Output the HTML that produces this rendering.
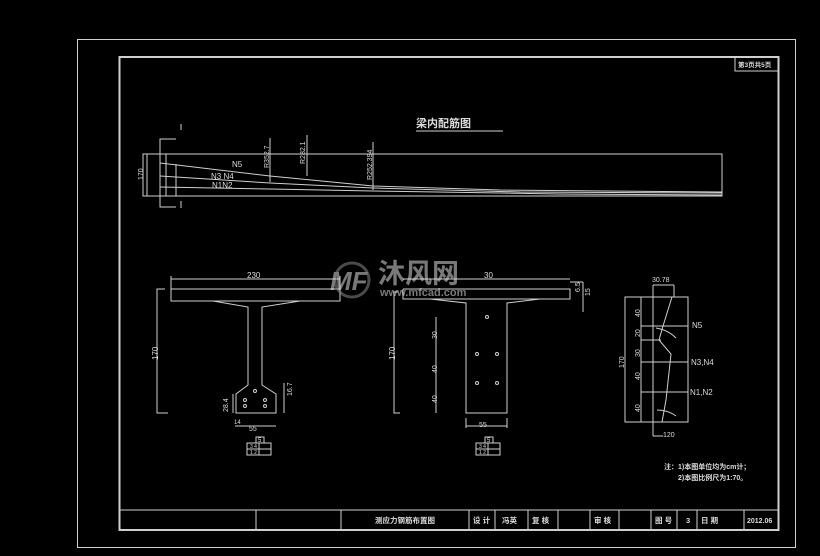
<!DOCTYPE html>
<html><head><meta charset="utf-8"><style>
html,body{margin:0;padding:0;background:#000;width:820px;height:556px;overflow:hidden}
svg{display:block}
text{font-family:"Liberation Sans","Noto Sans CJK SC",sans-serif;fill:#ddd}
.b{font-weight:bold}
</style></head><body>
<svg width="820" height="556" viewBox="0 0 820 556" xmlns="http://www.w3.org/2000/svg">
<rect width="820" height="556" fill="#000"/>
<g fill="none" stroke="#cfcfcf" stroke-width="1">
<rect x="77.5" y="39.5" width="718" height="508"/>
<rect x="119.5" y="57" width="659" height="473" stroke-width="2"/>
<line x1="119" y1="510" x2="779" y2="510"/>
<line x1="256" y1="510" x2="256" y2="530"/><line x1="341" y1="510" x2="341" y2="530"/>
<line x1="469" y1="510" x2="469" y2="530"/><line x1="495" y1="510" x2="495" y2="530"/>
<line x1="528" y1="510" x2="528" y2="530"/><line x1="558" y1="510" x2="558" y2="530"/>
<line x1="590" y1="510" x2="590" y2="530"/><line x1="619" y1="510" x2="619" y2="530"/>
<line x1="651" y1="510" x2="651" y2="530"/><line x1="677" y1="510" x2="677" y2="530"/>
<line x1="697" y1="510" x2="697" y2="530"/><line x1="744" y1="510" x2="744" y2="530"/>
<polyline points="735,57 735,71 779,71"/>

<rect x="143" y="154" width="579" height="42"/>
<polyline points="176,139 160,139 160,207 176,207"/>
<line x1="181" y1="124" x2="181" y2="130"/><line x1="181" y1="201" x2="181" y2="208"/>
<line x1="166" y1="154" x2="166" y2="196"/><line x1="176" y1="164" x2="176" y2="196"/>
<line x1="147" y1="154" x2="147" y2="196"/>
<polyline points="160,163 270,176 373,186 500,190 722,192"/>
<polyline points="160,176 270,183 373,188 520,192 722,193"/>
<polyline points="160,187 270,189 373,191 560,194 722,195"/>
<line x1="270" y1="138" x2="270" y2="182"/>
<line x1="307" y1="135" x2="307" y2="176"/>
<line x1="373" y1="142" x2="373" y2="190"/>
<line x1="416" y1="131" x2="503" y2="131"/>
<polyline points="171,289 340,289 340,301 171,301 171,289"/>
<polyline points="213,301 248,307 248,385 236,394 236,413 276,413 276,394 262,385 262,307 300,301"/>
<line x1="171" y1="279" x2="340" y2="279"/><line x1="171" y1="276" x2="171" y2="289"/><line x1="340" y1="276" x2="340" y2="289"/>
<polyline points="165,289 157,289 157,413 168,413"/>
<line x1="233" y1="394" x2="233" y2="413"/>
<line x1="284" y1="383" x2="284" y2="413"/>
<line x1="235" y1="426" x2="276" y2="426"/>
<circle cx="255" cy="391" r="1.5"/><circle cx="245" cy="400" r="1.5"/><circle cx="265" cy="400" r="1.5"/>
<circle cx="245" cy="406" r="1.5"/><circle cx="265" cy="406" r="1.5"/>
<rect x="256" y="437" width="8" height="6"/><rect x="247" y="443" width="24" height="12"/>
<line x1="259" y1="443" x2="259" y2="455"/><line x1="247" y1="449" x2="271" y2="449"/>
<polyline points="403,289 570,289 570,299 403,299 403,289"/>
<polyline points="430,299 466,303 466,413 507,413 507,303 540,299"/>
<line x1="403" y1="279" x2="570" y2="279"/><line x1="570" y1="282" x2="583" y2="282"/>
<line x1="583" y1="282" x2="583" y2="312"/>
<polyline points="398,292 394,292 394,413 400,413"/>
<line x1="436" y1="317" x2="436" y2="413"/>
<line x1="466" y1="426" x2="507" y2="426"/><line x1="466" y1="418" x2="466" y2="428"/><line x1="507" y1="418" x2="507" y2="428"/>
<circle cx="487" cy="317" r="1.5"/><circle cx="477" cy="354" r="1.5"/><circle cx="497" cy="354" r="1.5"/>
<circle cx="477" cy="383" r="1.5"/><circle cx="497" cy="383" r="1.5"/>
<rect x="485" y="437" width="8" height="6"/><rect x="476" y="443" width="24" height="12"/>
<line x1="488" y1="443" x2="488" y2="455"/><line x1="476" y1="449" x2="500" y2="449"/>
<rect x="625" y="297" width="63" height="125"/>
<line x1="641" y1="297" x2="641" y2="422"/><line x1="653" y1="285" x2="653" y2="436"/>
<line x1="653" y1="285" x2="674" y2="285"/><line x1="674" y1="285" x2="674" y2="297"/>
<polyline points="672,297 663,326 659,340 671,354 666,400 662,422"/>
<line x1="641" y1="326" x2="688" y2="326"/><line x1="641" y1="340" x2="661" y2="340"/>
<line x1="641" y1="362" x2="688" y2="362"/><line x1="641" y1="392" x2="688" y2="392"/>
<line x1="653" y1="436" x2="663" y2="436"/>
<line x1="688" y1="326" x2="688" y2="392" stroke-dasharray="1,1"/>
<path d="M656,328 Q668,330 676,338"/><path d="M657,410 Q668,410 676,416"/>
</g>
<g opacity="0.55">
<circle cx="352" cy="280" r="17" fill="none" stroke="#888" stroke-width="3"/>
<text x="330" y="290" font-size="26" font-weight="bold" fill="#999" font-style="italic">MF</text>
<text x="378" y="283" font-size="27" font-weight="bold" fill="#999" font-family="Noto Sans CJK SC,sans-serif">沐风网</text>
<text x="380" y="296" font-size="11" font-weight="bold" fill="#999">www.mfcad.com</text>
</g>
<g font-size="8">
<text x="738" y="67" font-size="6.5" class="b">第3页共5页</text>
<text x="416" y="127" font-size="11" font-weight="bold">梁内配筋图</text>
<text x="232" y="167">N5</text>
<text x="211" y="179">N3 N4</text>
<text x="212" y="188">N1N2</text>
<text transform="translate(143,180) rotate(-90)" font-size="7">170</text>
<text transform="translate(269,168) rotate(-90)" font-size="7">R352.7</text>
<text transform="translate(305,164) rotate(-90)" font-size="7">R282.1</text>
<text transform="translate(372,180) rotate(-90)" font-size="7">R252.394</text>
<text x="247" y="278">230</text>
<text transform="translate(158,360) rotate(-90)">170</text>
<text transform="translate(228,412) rotate(-90)" font-size="7">28.4</text>
<text transform="translate(292,396) rotate(-90)" font-size="7">16.7</text>
<text x="234" y="424" font-size="6">14</text>
<text x="249" y="431" font-size="7">55</text>
<text x="258" y="442" font-size="6">5</text>
<text x="250" y="448" font-size="5">3 4</text><text x="250" y="454" font-size="5">1 2</text>
<text x="484" y="278">30</text>
<text transform="translate(580,292) rotate(-90)" font-size="7">6.5</text>
<text transform="translate(590,296) rotate(-90)" font-size="7">15</text>
<text transform="translate(395,360) rotate(-90)">170</text>
<text transform="translate(437,339) rotate(-90)" font-size="7">30</text>
<text transform="translate(437,373) rotate(-90)" font-size="7">40</text>
<text transform="translate(437,403) rotate(-90)" font-size="7">40</text>
<text x="479" y="427" font-size="7">55</text>
<text x="487" y="442" font-size="6">5</text>
<text x="479" y="448" font-size="5">3 4</text><text x="479" y="454" font-size="5">1 2</text>
<text x="652" y="282" font-size="7">30.78</text>
<text transform="translate(640,317) rotate(-90)" font-size="7">40</text>
<text transform="translate(640,337) rotate(-90)" font-size="7">20</text>
<text transform="translate(640,357) rotate(-90)" font-size="7">30</text>
<text transform="translate(640,380) rotate(-90)" font-size="7">40</text>
<text transform="translate(640,412) rotate(-90)" font-size="7">40</text>
<text transform="translate(624,368) rotate(-90)" font-size="7">170</text>
<text x="692" y="328">N5</text>
<text x="691" y="365">N3,N4</text>
<text x="690" y="395">N1,N2</text>
<text x="663" y="437" font-size="7">120</text>
<text x="664" y="469" font-size="7" class="b">注：1)本图单位均为cm计；</text>
<text x="678" y="480" font-size="7" class="b">2)本图比例尺为1:70。</text>
<text x="375" y="523" font-size="7.5" class="b">测应力钢筋布置图</text>
<text x="473" y="523" font-size="7.5" class="b">设 计</text>
<text x="502" y="523" font-size="7.5" class="b">冯英</text>
<text x="532" y="523" font-size="7.5" class="b">复 核</text>
<text x="594" y="523" font-size="7.5" class="b">审 核</text>
<text x="655" y="523" font-size="7.5" class="b">图 号</text>
<text x="686" y="523" font-size="7.5" class="b">3</text>
<text x="701" y="523" font-size="7.5" class="b">日 期</text>
<text x="747" y="523" font-size="7" class="b">2012.06</text>
</g>
</svg>
</body></html>
